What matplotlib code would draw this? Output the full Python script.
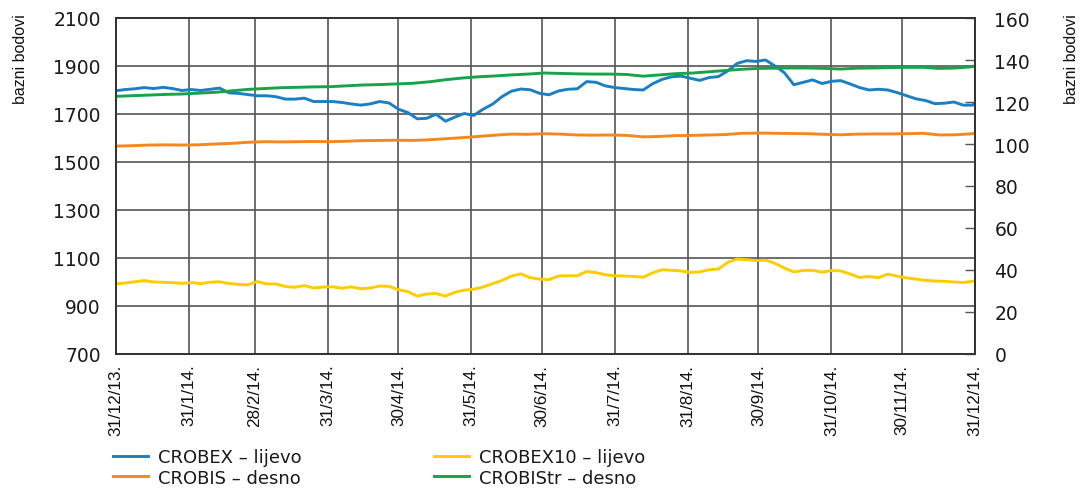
import pandas as pd
import matplotlib
matplotlib.use("Agg")
import matplotlib.pyplot as plt
from matplotlib import font_manager

# stock indices read every 4 days, bond indices weekly (31/12/2013 - 31/12/2014)
dates_4d = list(pd.date_range("2013-12-31", "2014-12-30", freq="4D")) + [pd.Timestamp("2014-12-31")]
dates_7d = list(pd.date_range("2013-12-31", "2014-12-30", freq="7D")) + [pd.Timestamp("2014-12-31")]

crobex = [1797, 1802, 1805, 1810, 1806, 1811, 1806, 1798, 1802, 1798,
          1803, 1808, 1788, 1786, 1781, 1776, 1776, 1772, 1762, 1762,
          1766, 1752, 1752, 1752, 1748, 1742, 1737, 1742, 1752, 1746,
          1720, 1706, 1680, 1682, 1699, 1670, 1687, 1702, 1694, 1720,
          1741, 1772, 1795, 1804, 1801, 1786, 1780, 1796, 1803, 1805,
          1835, 1832, 1817, 1810, 1806, 1802, 1800, 1826, 1844, 1855,
          1858, 1849, 1840, 1852, 1856, 1880, 1911, 1922, 1919, 1925,
          1900, 1872, 1822, 1832, 1842, 1827, 1836, 1839, 1825, 1810,
          1800, 1803, 1800, 1789, 1776, 1763, 1756, 1743, 1745, 1750,
          1737, 1737, 1746]
crobex10 = [992, 996, 1001, 1006, 1000, 999, 997, 994, 998, 993,
            999, 1001, 994, 990, 988, 1002, 992, 992, 981, 978,
            985, 975, 979, 980, 974, 980, 972, 975, 983, 982,
            968, 960, 941, 950, 952, 941, 957, 966, 970, 979,
            993, 1006, 1025, 1034, 1018, 1012, 1010, 1025, 1026, 1026,
            1044, 1039, 1030, 1026, 1025, 1023, 1020, 1038, 1051, 1049,
            1046, 1040, 1042, 1051, 1054, 1082, 1096, 1093, 1089, 1091,
            1078, 1058, 1042, 1048, 1049, 1041, 1048, 1046, 1033, 1019,
            1023, 1018, 1033, 1024, 1017, 1012, 1007, 1004, 1003, 1000,
            998, 1003, 1005]
crobis = [99.0, 99.2, 99.5, 99.6, 99.5, 99.6, 100.0, 100.3, 100.8, 101.1,
          101.0, 101.1, 101.2, 101.1, 101.3, 101.6, 101.7, 101.8, 101.7, 102.0,
          102.5, 103.0, 103.6, 104.2, 104.7, 104.6, 104.9, 104.7, 104.3, 104.2,
          104.3, 104.1, 103.4, 103.6, 104.0, 104.1, 104.3, 104.5, 105.1, 105.2,
          105.1, 105.0, 104.9, 104.6, 104.4, 104.7, 104.8, 104.8, 104.9, 105.1,
          104.3, 104.4, 104.9, 105.2]
crobistr = [122.7, 123.0, 123.3, 123.6, 123.8, 124.2, 124.6, 125.3, 126.0, 126.4,
            126.8, 127.0, 127.2, 127.3, 127.7, 128.1, 128.3, 128.6, 128.9, 129.6,
            130.6, 131.4, 132.0, 132.4, 132.9, 133.3, 133.8, 133.6, 133.4, 133.3,
            133.3, 133.1, 132.3, 132.9, 133.5, 133.8, 134.4, 135.0, 135.6, 136.0,
            136.1, 136.2, 136.2, 136.0, 135.7, 136.1, 136.2, 136.4, 136.5, 136.5,
            136.0, 136.2, 136.8, 137.3]

month_ends = ["2013-12-31", "2014-01-31", "2014-02-28", "2014-03-31", "2014-04-30",
              "2014-05-31", "2014-06-30", "2014-07-31", "2014-08-31", "2014-09-30",
              "2014-10-31", "2014-11-30", "2014-12-31"]
month_labels = ["31/12/13.", "31/1/14.", "28/2/14.", "31/3/14.", "30/4/14.", "31/5/14.",
                "30/6/14.", "31/7/14.", "31/8/14.", "30/9/14.", "31/10/14.", "30/11/14.",
                "31/12/14."]
left_ticks = [700, 900, 1100, 1300, 1500, 1700, 1900, 2100]
right_ticks = [0, 20, 40, 60, 80, 100, 120, 140, 160]

c_blue, c_yellow, c_orange, c_green = "#1b7fc3", "#ffcc00", "#f5871f", "#16a34a"
grid_c = "#555555"


def pick_font(names):
    for n in names:
        try:
            font_manager.findfont(font_manager.FontProperties(family=n), fallback_to_default=False)
            return n
        except Exception:
            pass
    return "DejaVu Sans"


narrow = pick_font(["Liberation Sans Narrow", "Arial Narrow", "Liberation Sans"])
narrow_size = 13 if "Narrow" in narrow else 12.3
label_size = 13 if "Narrow" in narrow else 11.5

plt.rcParams["font.family"] = ["DejaVu Sans"]

fig = plt.figure(figsize=(10.85, 4.89), dpi=100)
ax = fig.add_axes([116 / 1085, 1 - 355 / 489, (975 - 116) / 1085, (355 - 19) / 489])
ax2 = ax.twinx()

x4 = pd.to_datetime(dates_4d)
x7 = pd.to_datetime(dates_7d)
xt = pd.to_datetime(month_ends)

l1, = ax.plot(x4, crobex, color=c_blue, lw=2.1, label="CROBEX – lijevo")
l3, = ax.plot(x4, crobex10, color=c_yellow, lw=2.1, label="CROBEX10 – lijevo")
l2, = ax2.plot(x7, crobis, color=c_orange, lw=2.1, label="CROBIS – desno")
l4, = ax2.plot(x7, crobistr, color=c_green, lw=2.1, label="CROBIStr – desno")

ax.set_xlim(xt[0], xt[-1])
ax.set_ylim(700, 2100)
ax2.set_ylim(0, 160)

ax.set_yticks(left_ticks)
ax.set_xticks(xt)
ax.set_xticklabels(month_labels, rotation=90, family=narrow, fontsize=narrow_size,
                   va="top", ha="center")
ax.tick_params(axis="x", length=0, pad=7, labelcolor="#111111")
ax.tick_params(axis="y", length=0, pad=11, labelsize=13.5, labelcolor="#1a1a1a")
ax.grid(True, color=grid_c, lw=1.2)
ax.set_axisbelow(True)

ax2.set_yticks(right_ticks)
ax2.tick_params(axis="y", direction="in", length=7, width=1, color=grid_c,
                pad=14, labelsize=13.5, labelcolor="#1a1a1a")

for a in (ax, ax2):
    for s in a.spines.values():
        s.set_color("#333333")
        s.set_linewidth(1.3)

fig.text(21 / 1085, 1 - 14 / 489, "bazni bodovi", rotation=90, va="top", ha="center",
         family=narrow, fontsize=label_size, color="#111111")
fig.text(1071 / 1085, 1 - 14 / 489, "bazni bodovi", rotation=90, va="top", ha="center",
         family=narrow, fontsize=label_size, color="#111111")

fig.legend(handles=[l1, l2, l3, l4], ncol=2, loc="upper left",
           bbox_to_anchor=(113 / 1085, 1 - 449 / 489), frameon=False,
           fontsize=13, handlelength=1.95, handletextpad=0.55, labelspacing=0.15,
           columnspacing=7.3, borderpad=0, borderaxespad=0, labelcolor="#1a1a1a")

fig.savefig("out.png", dpi=100)
